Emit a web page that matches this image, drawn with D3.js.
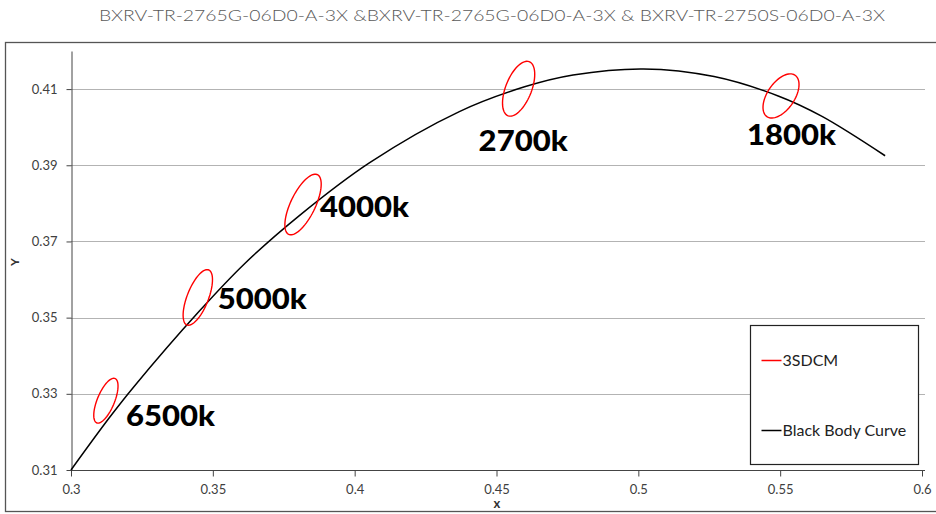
<!DOCTYPE html>
<html lang="en">
<head>
<meta charset="UTF-8">
<title>3SDCM ellipses and black body curve</title>
<style>
    body { margin: 0; background: #fff; }
    svg { display: block; }
    text { font-family: Lato, "Open Sans", sans-serif; }
</style>
</head>
<body>
<div class="box"></div>
<script src="https://d3js.org/d3.v7.min.js"></script>
<script>
    // black body curve (x, y)
    const bbX = [0.3000, 0.3135, 0.3221, 0.3451, 0.3611, 0.3805, 0.4053, 0.4369, 0.4599, 0.4770, 0.5018, 0.5267, 0.5493, 0.5646, 0.5870];
    const bbY = [0.3100, 0.3237, 0.3318, 0.3516, 0.3641, 0.3768, 0.3907, 0.4041, 0.4106, 0.4137, 0.4153, 0.4133, 0.4082, 0.4029, 0.3925];

    // 3SDCM ellipses: centre, semi axes, rotation (deg)
    const ellLabel = ['6500k', '5000k', '4000k', '2700k', '1800k'];
    const ellCx = [0.3123, 0.3447, 0.3818, 0.4578, 0.5503];
    const ellCy = [0.3282, 0.3553, 0.3797, 0.4101, 0.4082];
    const ellA = [0.00669, 0.00822, 0.00939, 0.00810, 0.00750];
    const ellB = [0.00285, 0.00354, 0.00402, 0.00430, 0.00420];
    const ellRot = [58.2, 59.4, 54.0, 57.3, 40.0];

    const xTicks = [0.3, 0.35, 0.4, 0.45, 0.5, 0.55, 0.6];
    const yTicks = [0.31, 0.33, 0.35, 0.37, 0.39, 0.41];
    const legendNames = ['3SDCM', 'Black Body Curve'];
    const legendColors = ['#ff0000', '#000000'];

    const title = 'BXRV-TR-2765G-06D0-A-3X &BXRV-TR-2765G-06D0-A-3X & BXRV-TR-2750S-06D0-A-3X';

    const width = 936, height = 514;
    const margin = { top: 51, right: 13, bottom: 44, left: 71 };

    const svg = d3.select('.box').append('svg')
        .attr('width', width)
        .attr('height', height);

    // outer frame
    svg.append('rect')
        .attr('x', 5.5).attr('y', 42.5)
        .attr('width', 940).attr('height', 469)
        .attr('fill', 'none')
        .attr('stroke', '#555')
        .attr('stroke-width', 1.3);

    svg.append('text')
        .attr('x', 492).attr('y', 21)
        .attr('text-anchor', 'middle')
        .attr('font-size', 16)
        .attr('font-weight', 300)
        .attr('fill', '#595959')
        .attr('textLength', 786)
        .attr('lengthAdjust', 'spacingAndGlyphs')
        .text(title);

    const x = d3.scaleLinear().domain([0.3, 0.6]).range([margin.left, 922]);
    const y = d3.scaleLinear().domain([0.31, 0.42]).range([470, margin.top]);

    // grid lines
    svg.append('g')
        .selectAll('line')
        .data(yTicks.slice(1))
        .join('line')
        .attr('x1', margin.left).attr('x2', 925)
        .attr('y1', d => Math.round(y(d)) + 0.5)
        .attr('y2', d => Math.round(y(d)) + 0.5)
        .attr('stroke', '#b3b3b3')
        .attr('stroke-width', 1.2);

    // axes
    const xAxis = svg.append('g')
        .attr('transform', `translate(0, 470.5)`)
        .call(d3.axisBottom(x).tickValues(xTicks).tickFormat(d3.format('')).tickSize(6).tickPadding(8).tickSizeOuter(0));
    xAxis.select('.domain').attr('d', `M${margin.left},0H925`).attr('stroke', '#444');

    const yAxis = svg.append('g')
        .attr('transform', `translate(${margin.left + 0.5}, 0)`)
        .call(d3.axisLeft(y).tickValues(yTicks).tickFormat(d3.format('')).tickSize(5).tickPadding(9).tickSizeOuter(0));
    yAxis.select('.domain').attr('stroke', '#444');

    svg.selectAll('.tick line').attr('stroke', '#444');
    svg.selectAll('.tick text')
        .attr('font-family', 'Lato, sans-serif')
        .attr('font-size', 13)
        .attr('fill', '#404040');

    svg.append('text')
        .attr('transform', 'translate(19, 262) rotate(-90)')
        .attr('text-anchor', 'middle')
        .attr('font-size', 12)
        .attr('font-weight', 'bold')
        .attr('fill', '#333')
        .text('Y');

    svg.append('text')
        .attr('x', 497).attr('y', 508)
        .attr('text-anchor', 'middle')
        .attr('font-size', 13)
        .attr('font-weight', 'bold')
        .attr('fill', '#333')
        .text('x');

    // black body curve
    const bb = bbX.map((v, i) => [v, bbY[i]]);
    svg.append('path')
        .datum(bb)
        .attr('fill', 'none')
        .attr('stroke', '#000')
        .attr('stroke-width', 1.5)
        .attr('d', d3.line().x(d => x(d[0])).y(d => y(d[1])).curve(d3.curveCatmullRom));

    // ellipses, traced in chromaticity space then mapped by the scales
    const steps = d3.range(0, 73).map(k => k / 72 * Math.PI * 2);
    const ellipse = i => {
        const th = ellRot[i] * Math.PI / 180;
        return steps.map(t => [
            ellCx[i] + ellA[i] * Math.cos(th) * Math.cos(t) - ellB[i] * Math.sin(th) * Math.sin(t),
            ellCy[i] + ellA[i] * Math.sin(th) * Math.cos(t) + ellB[i] * Math.cos(th) * Math.sin(t)
        ]);
    };
    svg.append('g')
        .selectAll('path')
        .data(ellLabel.map((d, i) => ellipse(i)))
        .join('path')
        .attr('fill', 'none')
        .attr('stroke', '#ff0000')
        .attr('stroke-width', 1.4)
        .attr('d', d3.line().x(d => x(d[0])).y(d => y(d[1])));

    // labels next to each ellipse
    const labelOffset = [[20, 25], [20, 12], [17, 12], [-40, 62], [-34, 49]];
    svg.append('g')
        .selectAll('text')
        .data(ellLabel)
        .join('text')
        .attr('x', (d, i) => x(ellCx[i]) + labelOffset[i][0])
        .attr('y', (d, i) => y(ellCy[i]) + labelOffset[i][1])
        .attr('font-size', 28)
        .attr('font-weight', 900)
        .attr('fill', '#000')
        .attr('textLength', 89)
        .attr('lengthAdjust', 'spacingAndGlyphs')
        .text(d => d);

    // legend
    const legend = svg.append('g').attr('transform', 'translate(750.5, 325.5)');
    legend.append('rect')
        .attr('width', 168).attr('height', 139)
        .attr('fill', '#fff')
        .attr('stroke', '#222')
        .attr('stroke-width', 1.2);
    const item = legend.selectAll('.item')
        .data(legendNames)
        .join('g')
        .attr('class', 'item')
        .attr('transform', (d, i) => `translate(11, ${35 + i * 70})`);
    item.append('line')
        .attr('x1', 0).attr('x2', 20)
        .attr('stroke', (d, i) => legendColors[i])
        .attr('stroke-width', 1.5);
    item.append('text')
        .attr('x', 21).attr('y', 5)
        .attr('font-size', 16)
        .attr('fill', '#222')
        .text(d => d);
</script>
</body>
</html>
